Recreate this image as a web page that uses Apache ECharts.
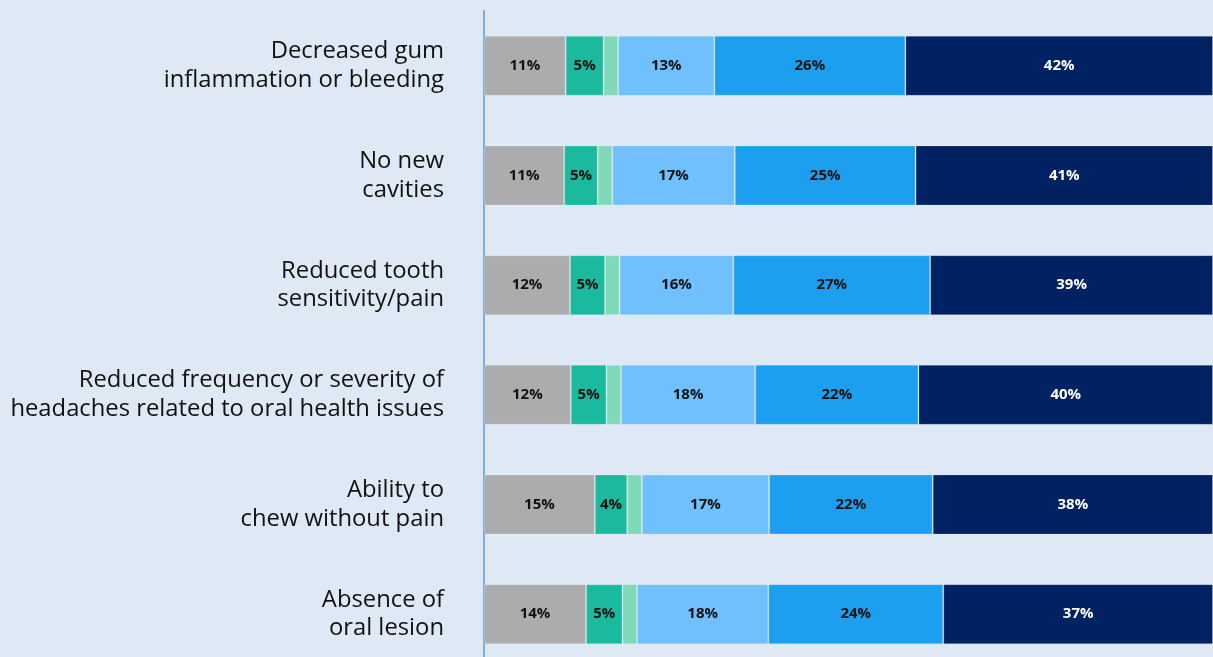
<!DOCTYPE html>
<html>
<head>
<meta charset="utf-8">
<script src="https://cdn.jsdelivr.net/npm/echarts@6/dist/echarts.min.js"></script>
<style>
html,body{margin:0;padding:0;background:#dee9f5;}
#chart{width:1213px;height:657px;}
</style>
</head>
<body>
<div id="chart"></div>
<script>
const categories = [
  "Decreased gum\ninflammation or bleeding",
  "No new\ncavities",
  "Reduced tooth\nsensitivity/pain",
  "Reduced frequency or severity of\nheadaches related to oral health issues",
  "Ability to\nchew without pain",
  "Absence of\noral lesion"
];
const seriesGray      = [11.2, 11.0, 11.8, 11.9, 15.2, 14];
const seriesTeal      = [5.2, 4.6, 4.8, 4.9, 4.45, 5];
const seriesLightGreen= [2.0, 2.0, 2.0, 2.0, 2.0, 2];
const seriesLightBlue = [13.2, 16.8, 15.6, 18.4, 17.45, 18];
const seriesBlue      = [26.2, 24.8, 27.0, 22.4, 22.45, 24];
const seriesNavy      = [42.2, 40.8, 38.8, 40.4, 38.45, 37];

const colors = ["#acacac", "#1bba9f", "#7fd9b7", "#6fc0fc", "#1c9fee", "#002263"];
const labelColors = ["#111", "#111", "#111", "#111", "#111", "#ffffff"];
const datasets = [seriesGray, seriesTeal, seriesLightGreen, seriesLightBlue, seriesBlue, seriesNavy];

const chart = echarts.init(document.getElementById('chart'), null, {renderer: 'canvas'});
const series = datasets.map((d, i) => ({
  type: 'bar',
  stack: 'total',
  data: d,
  barWidth: 60,
  itemStyle: { color: colors[i], borderColor: 'rgba(255,255,255,0.2)', borderWidth: 1 },
  label: {
    show: i !== 2,
    position: 'inside',
    color: labelColors[i],
    fontFamily: 'Open Sans',
    fontWeight: 'bold',
    fontSize: 15,
    formatter: p => Math.round(p.value) + '%'
  },
  emphasis: { disabled: true }
}));

chart.setOption({
  backgroundColor: '#dee9f5',
  animation: false,
  grid: { left: 484, right: 0, top: 11, height: 658, outerBoundsMode: 'none', containLabel: false },
  xAxis: {
    type: 'value', min: 0, max: 100, show: false
  },
  yAxis: {
    type: 'category',
    inverse: true,
    data: categories,
    axisLine: { show: true, lineStyle: { color: '#7aaee0', width: 2 } },
    axisTick: { show: false },
    axisLabel: {
      margin: 40,
      fontFamily: 'Open Sans',
      fontSize: 23.8,
      lineHeight: 28.5,
      color: '#111',
      align: 'right'
    }
  },
  series: series
});
</script>
</body>
</html>
